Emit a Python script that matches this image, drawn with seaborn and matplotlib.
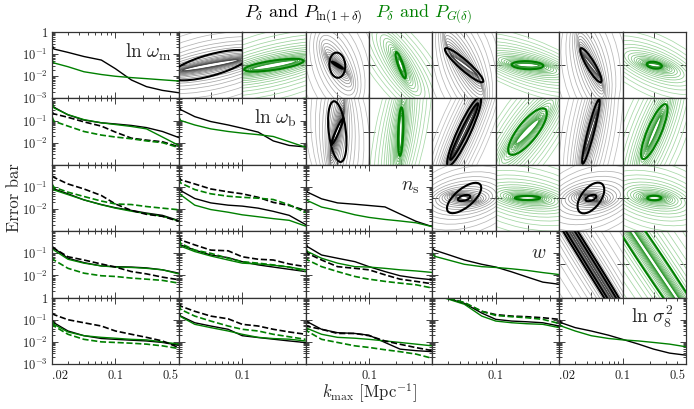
import numpy as np
import matplotlib
matplotlib.use('Agg')
import matplotlib.pyplot as plt
from matplotlib.patches import Ellipse
from matplotlib.ticker import LogLocator, FixedLocator, FuncFormatter, NullFormatter
import seaborn as sns

# k_max grid (Mpc^-1)
kmax = [0.020, 0.021, 0.030, 0.045, 0.070, 0.10, 0.15, 0.22, 0.33, 0.50]

# diagonal: marginal error bars, black = P_delta & P_ln(1+delta), green = P_delta & P_G(delta)
wm_blk = [0.26, 0.17, 0.12, 0.078, 0.054, 0.022, 0.0068, 0.0034, 0.0023, 0.0018]
wm_grn = [0.058, 0.040, 0.027, 0.016, 0.012, 0.010, 0.0087, 0.0078, 0.0069, 0.0061]
wb_blk = [0.62, 0.31, 0.15, 0.09, 0.063, 0.045, 0.030, 0.012, 0.0075, 0.0064]
wb_grn = [0.15, 0.10, 0.063, 0.042, 0.032, 0.027, 0.023, 0.019, 0.011, 0.0062]
ns_blk = [0.081, 0.058, 0.029, 0.019, 0.0165, 0.0145, 0.0125, 0.006, 0.0028, 0.0016]
ns_grn = [0.034, 0.024, 0.0123, 0.0087, 0.0055, 0.0042, 0.0034, 0.0029, 0.0024, 0.0016]
w_blk = [0.18, 0.14, 0.087, 0.05, 0.032, 0.024, 0.0145, 0.0086, 0.005, 0.004]
w_grn = [0.106, 0.074, 0.05, 0.032, 0.025, 0.023, 0.020, 0.017, 0.0135, 0.011]
s8_blk = [0.104, 0.073, 0.044, 0.031, 0.020, 0.013, 0.0079, 0.0047, 0.0031, 0.0025]
s8_grn = [0.073, 0.052, 0.031, 0.019, 0.0142, 0.0123, 0.011, 0.0094, 0.0079, 0.006]

# lower triangle: solid and dashed error bars
wb_wm_blk = [0.66, 0.40, 0.18, 0.105, 0.079, 0.070, 0.060, 0.048, 0.032, 0.017]
wb_wm_grn = [0.66, 0.37, 0.185, 0.11, 0.079, 0.066, 0.054, 0.042, 0.018, 0.0075]
wb_wm_blk_d = [0.24, 0.20, 0.14, 0.087, 0.056, 0.030, 0.016, 0.013, 0.011, 0.0065]
wb_wm_grn_d = [0.15, 0.093, 0.056, 0.032, 0.022, 0.018, 0.015, 0.012, 0.010, 0.0060]

ns_wm_blk = [0.136, 0.081, 0.049, 0.026, 0.016, 0.0115, 0.0087, 0.0066, 0.0052, 0.003]
ns_wm_grn = [0.115, 0.073, 0.045, 0.026, 0.0156, 0.011, 0.008, 0.0062, 0.0047, 0.0029]
ns_wm_blk_d = [0.32, 0.27, 0.136, 0.081, 0.041, 0.017, 0.0087, 0.0058, 0.0047, 0.0028]
ns_wm_grn_d = [0.136, 0.097, 0.058, 0.037, 0.023, 0.017, 0.016, 0.013, 0.011, 0.0093]

ns_wb_blk = [0.097, 0.068, 0.030, 0.019, 0.0150, 0.0136, 0.011, 0.0079, 0.0052, 0.0020]
ns_wb_grn = [0.058, 0.044, 0.0150, 0.0095, 0.0072, 0.0055, 0.0045, 0.0037, 0.0031, 0.0017]
ns_wb_blk_d = [0.32, 0.21, 0.136, 0.081, 0.06, 0.049, 0.034, 0.020, 0.0145, 0.0087]
ns_wb_grn_d = [0.24, 0.15, 0.076, 0.049, 0.038, 0.034, 0.031, 0.027, 0.0156, 0.0069]

w_wm_blk = [0.21, 0.17, 0.06, 0.038, 0.027, 0.025, 0.024, 0.022, 0.018, 0.0127]
w_wm_grn = [0.185, 0.14, 0.054, 0.036, 0.027, 0.024, 0.023, 0.021, 0.018, 0.0118]
w_wm_blk_d = [0.20, 0.17, 0.07, 0.05, 0.033, 0.024, 0.015, 0.0118, 0.0084, 0.0064]
w_wm_grn_d = [0.07, 0.05, 0.021, 0.0127, 0.0097, 0.009, 0.0076, 0.0068, 0.006, 0.0045]

w_wb_blk = [0.56, 0.24, 0.14, 0.084, 0.064, 0.042, 0.030, 0.024, 0.019, 0.015]
w_wb_grn = [0.47, 0.21, 0.12, 0.076, 0.05, 0.036, 0.033, 0.029, 0.024, 0.018]
w_wb_blk_d = [0.66, 0.40, 0.24, 0.14, 0.13, 0.07, 0.054, 0.05, 0.033, 0.025]
w_wb_grn_d = [0.47, 0.28, 0.14, 0.10, 0.06, 0.042, 0.036, 0.030, 0.024, 0.015]

w_ns_blk = [0.33, 0.20, 0.084, 0.06, 0.042, 0.025, 0.015, 0.0097, 0.0076, 0.0064]
w_ns_grn = [0.185, 0.12, 0.06, 0.036, 0.025, 0.024, 0.021, 0.018, 0.016, 0.0137]
w_ns_blk_d = [0.14, 0.10, 0.05, 0.025, 0.021, 0.018, 0.0107, 0.0068, 0.0054, 0.0042]
w_ns_grn_d = [0.07, 0.05, 0.025, 0.015, 0.009, 0.0068, 0.0054, 0.0045, 0.0038, 0.0027]

s8_wm_blk = [0.10, 0.073, 0.031, 0.019, 0.0142, 0.013, 0.0119, 0.011, 0.0094, 0.0071]
s8_wm_grn = [0.097, 0.062, 0.028, 0.019, 0.016, 0.0146, 0.013, 0.0123, 0.010, 0.0079]
s8_wm_blk_d = [0.20, 0.17, 0.10, 0.073, 0.052, 0.031, 0.022, 0.016, 0.011, 0.0055]
s8_wm_grn_d = [0.073, 0.052, 0.022, 0.013, 0.010, 0.0094, 0.0087, 0.0079, 0.0066, 0.005]

s8_wb_blk = [0.24, 0.146, 0.073, 0.052, 0.037, 0.019, 0.0157, 0.0132, 0.011, 0.0093]
s8_wb_grn = [0.20, 0.137, 0.062, 0.044, 0.031, 0.022, 0.016, 0.0141, 0.0132, 0.011]
s8_wb_blk_d = [0.58, 0.41, 0.24, 0.146, 0.11, 0.062, 0.052, 0.037, 0.028, 0.022]
s8_wb_grn_d = [0.49, 0.29, 0.146, 0.087, 0.052, 0.037, 0.031, 0.022, 0.017, 0.013]

s8_ns_blk = [0.10, 0.08, 0.037, 0.026, 0.024, 0.020, 0.0094, 0.0047, 0.004, 0.0036]
s8_ns_grn = [0.052, 0.040, 0.022, 0.016, 0.0146, 0.013, 0.011, 0.0094, 0.0079, 0.0066]
s8_ns_blk_d = [0.062, 0.05, 0.037, 0.024, 0.024, 0.019, 0.011, 0.0078, 0.0055, 0.004]
s8_ns_grn_d = [0.044, 0.030, 0.013, 0.0094, 0.0066, 0.0056, 0.0044, 0.0036, 0.0028, 0.0018]

s8_w_blk = [1.6, 1.4, 0.9, 0.55, 0.20, 0.104, 0.087, 0.081, 0.073, 0.052]
s8_w_grn = [1.5, 1.3, 0.85, 0.50, 0.146, 0.087, 0.073, 0.066, 0.062, 0.044]
s8_w_blk_d = [1.8, 1.6, 0.95, 0.58, 0.24, 0.17, 0.146, 0.137, 0.123, 0.104]
s8_w_grn_d = [1.7, 1.5, 0.95, 0.60, 0.24, 0.156, 0.137, 0.123, 0.104, 0.068]

# upper triangle contour families: (semi-major, semi-minor, angle deg), outermost -> innermost
upper_cells = [(0, 1), (0, 2), (0, 3), (0, 4), (1, 2), (1, 3), (1, 4), (2, 3), (2, 4), (3, 4)]
blk_outer = [(3.0, 1.6, 12), (2.2, 1.5, 100), (2.2, 1.4, 100), (2.2, 1.4, 95), (2.5, 1.2, 98),
             (3.0, 0.8, 66), (3.0, 0.9, 80), (2.5, 1.6, 20), (2.5, 1.6, 25), (6.0, 1.3, 123)]
blk_inner = [(0.9, 0.05, 10), (0.2, 0.03, 150), (0.5, 0.04, 145), (0.4, 0.03, 130), (0.6, 0.04, 70),
             (0.8, 0.03, 63), (0.6, 0.03, 72), (0.25, 0.05, -15), (0.2, 0.05, -20), (4.0, 0.02, 123)]
blk_thick = [[(1.3, 0.32, 15)], [(0.38, 0.25, 95), (0.2, 0.03, 150)], [(0.78, 0.15, 140)],
             [(0.6, 0.13, 122)], [(0.92, 0.27, 97), (0.45, 0.05, 65)], [(1.15, 0.2, 64), (0.95, 0.1, 63)],
             [(1.0, 0.1, 75)], [(0.65, 0.28, 38), (0.2, 0.08, 15)], [(0.55, 0.3, 50), (0.18, 0.08, 20)],
             [(5.0, 0.2, 123), (5.0, 0.12, 123)]]
grn_outer = [(3.5, 1.2, 14), (2.5, 0.9, 130), (2.5, 0.8, 160), (2.2, 0.9, 155), (3.0, 0.8, 78),
             (3.0, 1.0, 55), (3.0, 1.0, 68), (2.5, 1.1, -12), (2.2, 1.1, -15), (6.0, 1.3, 125)]
grn_inner = [(0.7, 0.06, 10), (0.2, 0.04, 110), (0.35, 0.05, 178), (0.2, 0.04, 172), (0.5, 0.04, 88),
             (0.5, 0.08, 45), (0.5, 0.05, 66), (0.3, 0.04, 0), (0.2, 0.04, 0), (4.0, 0.05, 125)]
grn_thick = [[(0.95, 0.14, 8)], [(0.42, 0.08, 110)], [(0.5, 0.12, 178)], [(0.24, 0.1, 172)],
             [(0.73, 0.08, 88)], [(0.88, 0.3, 50)], [(0.9, 0.22, 66)], [(0.4, 0.06, 0)],
             [(0.22, 0.07, 0)], [(5.0, 0.35, 125)]]

param_names = [r'$\ln\,\omega_{\rm m}$', r'$\ln\,\omega_{\rm b}$', r'$n_{\rm s}$', r'$w$', r'$\ln\,\sigma_8^2$']
name_pos = [(0.95, 0.70), (0.93, 0.70), (0.90, 0.67), (0.90, 0.67), (0.90, 0.71)]

diag_blk = [wm_blk, wb_blk, ns_blk, w_blk, s8_blk]
diag_grn = [wm_grn, wb_grn, ns_grn, w_grn, s8_grn]
lower = {
    (1, 0): (wb_wm_blk, wb_wm_grn, wb_wm_blk_d, wb_wm_grn_d),
    (2, 0): (ns_wm_blk, ns_wm_grn, ns_wm_blk_d, ns_wm_grn_d),
    (2, 1): (ns_wb_blk, ns_wb_grn, ns_wb_blk_d, ns_wb_grn_d),
    (3, 0): (w_wm_blk, w_wm_grn, w_wm_blk_d, w_wm_grn_d),
    (3, 1): (w_wb_blk, w_wb_grn, w_wb_blk_d, w_wb_grn_d),
    (3, 2): (w_ns_blk, w_ns_grn, w_ns_blk_d, w_ns_grn_d),
    (4, 0): (s8_wm_blk, s8_wm_grn, s8_wm_blk_d, s8_wm_grn_d),
    (4, 1): (s8_wb_blk, s8_wb_grn, s8_wb_blk_d, s8_wb_grn_d),
    (4, 2): (s8_ns_blk, s8_ns_grn, s8_ns_blk_d, s8_ns_grn_d),
    (4, 3): (s8_w_blk, s8_w_grn, s8_w_blk_d, s8_w_grn_d),
}

BLK = '#000000'
GRN = '#008000'

sns.set_style('ticks')
plt.rcParams['font.family'] = 'cmr10'
plt.rcParams['mathtext.fontset'] = 'cm'
plt.rcParams['axes.unicode_minus'] = False
plt.rcParams['axes.linewidth'] = 0.8

W, H = 694, 409
x_left, y_top = 52, 32
cw, ch = 126.8, 66.4

fig = plt.figure(figsize=(W / 100, H / 100), dpi=100)


def cell_rect(i, j, half=None):
    x0 = x_left + j * cw
    w = cw
    if half == 1:
        x0 += cw / 2
    if half is not None:
        w = cw / 2
    return [x0 / W, 1 - (y_top + (i + 1) * ch) / H, w / W, ch / H]


def style_ticks(ax):
    ax.tick_params(which='both', direction='in', top=True, right=True, colors='#222222', width=0.6)
    ax.tick_params(which='major', length=4)
    ax.tick_params(which='minor', length=2)
    for sp in ax.spines.values():
        sp.set_color('#333333')
        sp.set_linewidth(0.9)


def draw_rings(ax, outer, inner, thick, light, dark, thick_col, n=19):
    for t in np.linspace(0, 1, n):
        a = outer[0] * (inner[0] / outer[0]) ** t
        b = outer[1] * (inner[1] / outer[1]) ** t
        ang = outer[2] + (inner[2] - outer[2]) * t
        col = [l + (d - l) * t ** 1.5 for l, d in zip(light, dark)]
        ax.add_patch(Ellipse((0, 0), 2 * a, 2 * b, angle=ang, fill=False, ec=col, lw=0.55))
    for a, b, ang in thick:
        ax.add_patch(Ellipse((0, 0), 2 * a, 2 * b, angle=ang, fill=False, ec=thick_col, lw=1.5, zorder=5))
    ax.set_xlim(-1, 1)
    ax.set_ylim(-1, 1)
    ax.set_xticks([0])
    ax.set_yticks([0])
    ax.set_xticklabels([])
    ax.set_yticklabels([])
    style_ticks(ax)


def ylab(v, pos, allowed):
    if not any(np.isclose(v, a) for a in allowed):
        return ''
    if np.isclose(v, 1):
        return '$1$'
    return r'$10^{%d}$' % int(round(np.log10(v)))


for i in range(5):
    for j in range(5):
        if i >= j:
            ax = fig.add_axes(cell_rect(i, j))
            if i == j:
                series = [(diag_blk[i], BLK, '-'), (diag_grn[i], GRN, '-')]
            else:
                sb, sg, db, dg = lower[(i, j)]
                series = [(sb, BLK, '-'), (sg, GRN, '-'), (db, BLK, '--'), (dg, GRN, '--')]
            for vals, col, ls in series:
                sns.lineplot(x=kmax, y=vals, ax=ax, color=col, linestyle=ls, lw=1.0 if ls == '-' else 1.2,
                             estimator=None, sort=False)
            ax.set_xscale('log')
            ax.set_yscale('log')
            ax.set_xlim(0.02, 0.5)
            ax.set_ylim(1e-3, 1)
            ax.yaxis.set_major_locator(LogLocator(base=10, numticks=10))
            ax.yaxis.set_minor_locator(LogLocator(base=10, subs=np.arange(2, 10), numticks=20))
            ax.yaxis.set_minor_formatter(NullFormatter())
            ax.xaxis.set_minor_locator(LogLocator(base=10, subs=np.arange(2, 10), numticks=20))
            ax.xaxis.set_minor_formatter(NullFormatter())
            if j == 0:
                allowed = [1, 0.1, 0.01, 0.001] if i in (0, 4) else [0.1, 0.01]
                ax.yaxis.set_major_formatter(FuncFormatter(lambda v, p, al=allowed: ylab(v, p, al)))
                ax.tick_params(axis='y', labelsize=9, pad=3)
            else:
                ax.yaxis.set_major_formatter(NullFormatter())
            if i == 4:
                if j in (0, 4):
                    ax.xaxis.set_major_locator(FixedLocator([0.02, 0.1, 0.5]))
                    ax.set_xticklabels(['.02', '0.1', '0.5'])
                    lbls = ax.get_xticklabels()
                    lbls[0].set_ha('left')
                    lbls[2].set_ha('right')
                else:
                    ax.xaxis.set_major_locator(FixedLocator([0.1]))
                    ax.set_xticklabels(['0.1'])
                ax.tick_params(axis='x', labelsize=9, pad=4)
            else:
                ax.xaxis.set_major_locator(FixedLocator([0.1]))
                ax.xaxis.set_major_formatter(NullFormatter())
            ax.set_xlabel('')
            ax.set_ylabel('')
            style_ticks(ax)
            if i == j:
                px, py = name_pos[i]
                ax.text(px, py, param_names[i], transform=ax.transAxes, ha='right', va='center', fontsize=14)
        else:
            n = upper_cells.index((i, j))
            axb = fig.add_axes(cell_rect(i, j, half=0))
            draw_rings(axb, blk_outer[n], blk_inner[n], blk_thick[n],
                       (0.75, 0.75, 0.75), (0.25, 0.25, 0.25), BLK)
            axg = fig.add_axes(cell_rect(i, j, half=1))
            draw_rings(axg, grn_outer[n], grn_inner[n], grn_thick[n],
                       (0.66, 0.85, 0.66), (0.15, 0.58, 0.15), GRN)

fig.text(0.5216, 1 - 14 / H, r'$P_\delta$ and $P_{\ln(1+\delta)}$', ha='right', va='center', fontsize=13, color=BLK)
fig.text(0.540, 1 - 14 / H, r'$P_\delta$ and $P_{G(\delta)}$', ha='left', va='center', fontsize=13, color=GRN)
fig.text(14 / W, 1 - 198 / H, 'Error bar', rotation=90, ha='center', va='center', fontsize=12)
fig.text(369 / W, 1 - 393 / H, r'$k_{\rm max}$ [Mpc$^{-1}$]', ha='center', va='center', fontsize=12)

fig.savefig('out.png', dpi=100)
